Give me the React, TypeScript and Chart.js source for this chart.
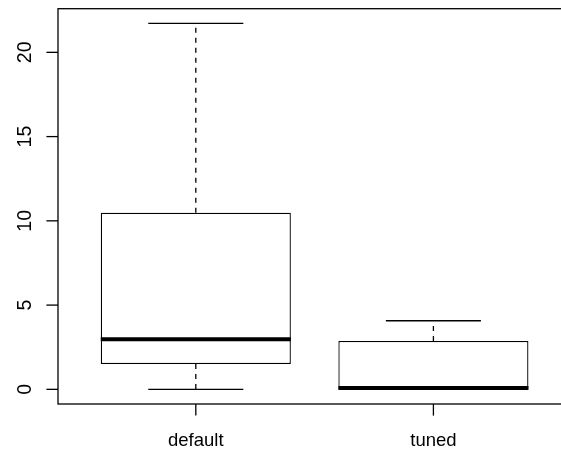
import React, { useEffect, useRef } from "react";
import { Chart, registerables } from "chart.js";

Chart.register(...registerables);

const categories = ["default", "tuned"];
const lowerWhisker = [0, 0];
const q1 = [1.5, 0.02];
const medians = [2.97, 0.08];
const q3 = [10.48, 2.87];
const upperWhisker = [21.72, 4.07];
const yTicks = [0, 5, 10, 15, 20];

const X_MIN = 0.42;
const X_MAX = 2.537;
const Y_MIN = -0.87;
const Y_MAX = 22.59;
const FONT = '"Liberation Sans", Arial, Helvetica, sans-serif';

const boxPlugin = {
  id: "rbox",
  beforeDatasetsDraw(chart: any) {
    const { ctx, scales } = chart;
    const xs = scales.x;
    const ys = scales.y;
    ctx.save();
    ctx.strokeStyle = "#000";
    ctx.lineWidth = 1.3;
    categories.forEach((_, i) => {
      const xc = xs.getPixelForValue(i + 1);
      const capL = xs.getPixelForValue(i + 1 - 0.2);
      const capR = xs.getPixelForValue(i + 1 + 0.2);
      ctx.setLineDash([5, 5]);
      ctx.beginPath();
      ctx.moveTo(xc, ys.getPixelForValue(q3[i]));
      ctx.lineTo(xc, ys.getPixelForValue(upperWhisker[i]));
      ctx.moveTo(xc, ys.getPixelForValue(q1[i]));
      ctx.lineTo(xc, ys.getPixelForValue(lowerWhisker[i]));
      ctx.stroke();
      ctx.setLineDash([]);
      ctx.beginPath();
      const yu = ys.getPixelForValue(upperWhisker[i]);
      const yl = ys.getPixelForValue(lowerWhisker[i]);
      ctx.moveTo(capL, yu);
      ctx.lineTo(capR, yu);
      ctx.moveTo(capL, yl);
      ctx.lineTo(capR, yl);
      ctx.stroke();
    });
    ctx.restore();
  },
  afterDatasetsDraw(chart: any) {
    const { ctx, scales } = chart;
    const xs = scales.x;
    const ys = scales.y;
    ctx.save();
    ctx.strokeStyle = "#000";
    ctx.lineWidth = 4;
    categories.forEach((_, i) => {
      const l = xs.getPixelForValue(i + 1 - 0.4);
      const r = xs.getPixelForValue(i + 1 + 0.4);
      const y = ys.getPixelForValue(medians[i]);
      ctx.beginPath();
      ctx.moveTo(l, y);
      ctx.lineTo(r, y);
      ctx.stroke();
    });
    ctx.restore();
  },
  afterDraw(chart: any) {
    const { ctx, scales, chartArea } = chart;
    const xs = scales.x;
    const ys = scales.y;
    ctx.save();
    ctx.strokeStyle = "#000";
    ctx.lineWidth = 1.3;
    ctx.strokeRect(chartArea.left, chartArea.top, chartArea.right - chartArea.left + 20, chartArea.bottom - chartArea.top);
    ctx.fillStyle = "#000";
    ctx.font = `19.5px ${FONT}`;
    ctx.textAlign = "center";
    ctx.textBaseline = "alphabetic";
    yTicks.forEach((t) => {
      const y = ys.getPixelForValue(t);
      ctx.beginPath();
      ctx.moveTo(chartArea.left - 11.6, y);
      ctx.lineTo(chartArea.left, y);
      ctx.stroke();
      ctx.save();
      ctx.translate(30.5, y);
      ctx.rotate(-Math.PI / 2);
      ctx.fillText(String(t), 0, 0);
      ctx.restore();
    });
    ctx.font = `18.5px ${FONT}`;
    categories.forEach((c, i) => {
      const x = xs.getPixelForValue(i + 1);
      ctx.beginPath();
      ctx.moveTo(x, chartArea.bottom);
      ctx.lineTo(x, chartArea.bottom + 11.6);
      ctx.stroke();
      ctx.fillText(c, x, 445.5);
    });
    ctx.restore();
  },
};

export default function App() {
  const ref = useRef<HTMLCanvasElement | null>(null);
  useEffect(() => {
    if (!ref.current) return;
    const chart = new Chart(ref.current, {
      type: "bar",
      data: {
        datasets: [
          {
            data: categories.map((_, i) => ({ x: i + 1, y: [q1[i], q3[i]] })) as any,
            backgroundColor: "#ffffff",
            borderColor: "#000000",
            borderWidth: 1.3,
            borderSkipped: false,
            barPercentage: 1,
            categoryPercentage: 0.8,
          },
        ],
      },
      options: {
        responsive: false,
        animation: false,
        devicePixelRatio: 1,
        layout: { padding: { left: 58, top: 8.7, right: 0, bottom: 47 } },
        plugins: { legend: { display: false }, tooltip: { enabled: false } },
        scales: {
          x: {
            type: "linear",
            display: false,
            offset: false,
            grace: 0,
            min: X_MIN,
            max: X_MAX,
            afterBuildTicks: (scale: any) => {
              scale.ticks = categories.map((_, i) => ({ value: i + 1 }));
            },
          },
          y: { type: "linear", display: false, min: Y_MIN, max: Y_MAX },
        },
      },
      plugins: [boxPlugin],
    });
    return () => chart.destroy();
  }, []);
  return (
    <canvas
      ref={ref}
      width={561}
      height={451}
      style={{ position: "fixed", left: 0, top: 0, width: 561, height: 451, background: "#fff" }}
    />
  );
}
